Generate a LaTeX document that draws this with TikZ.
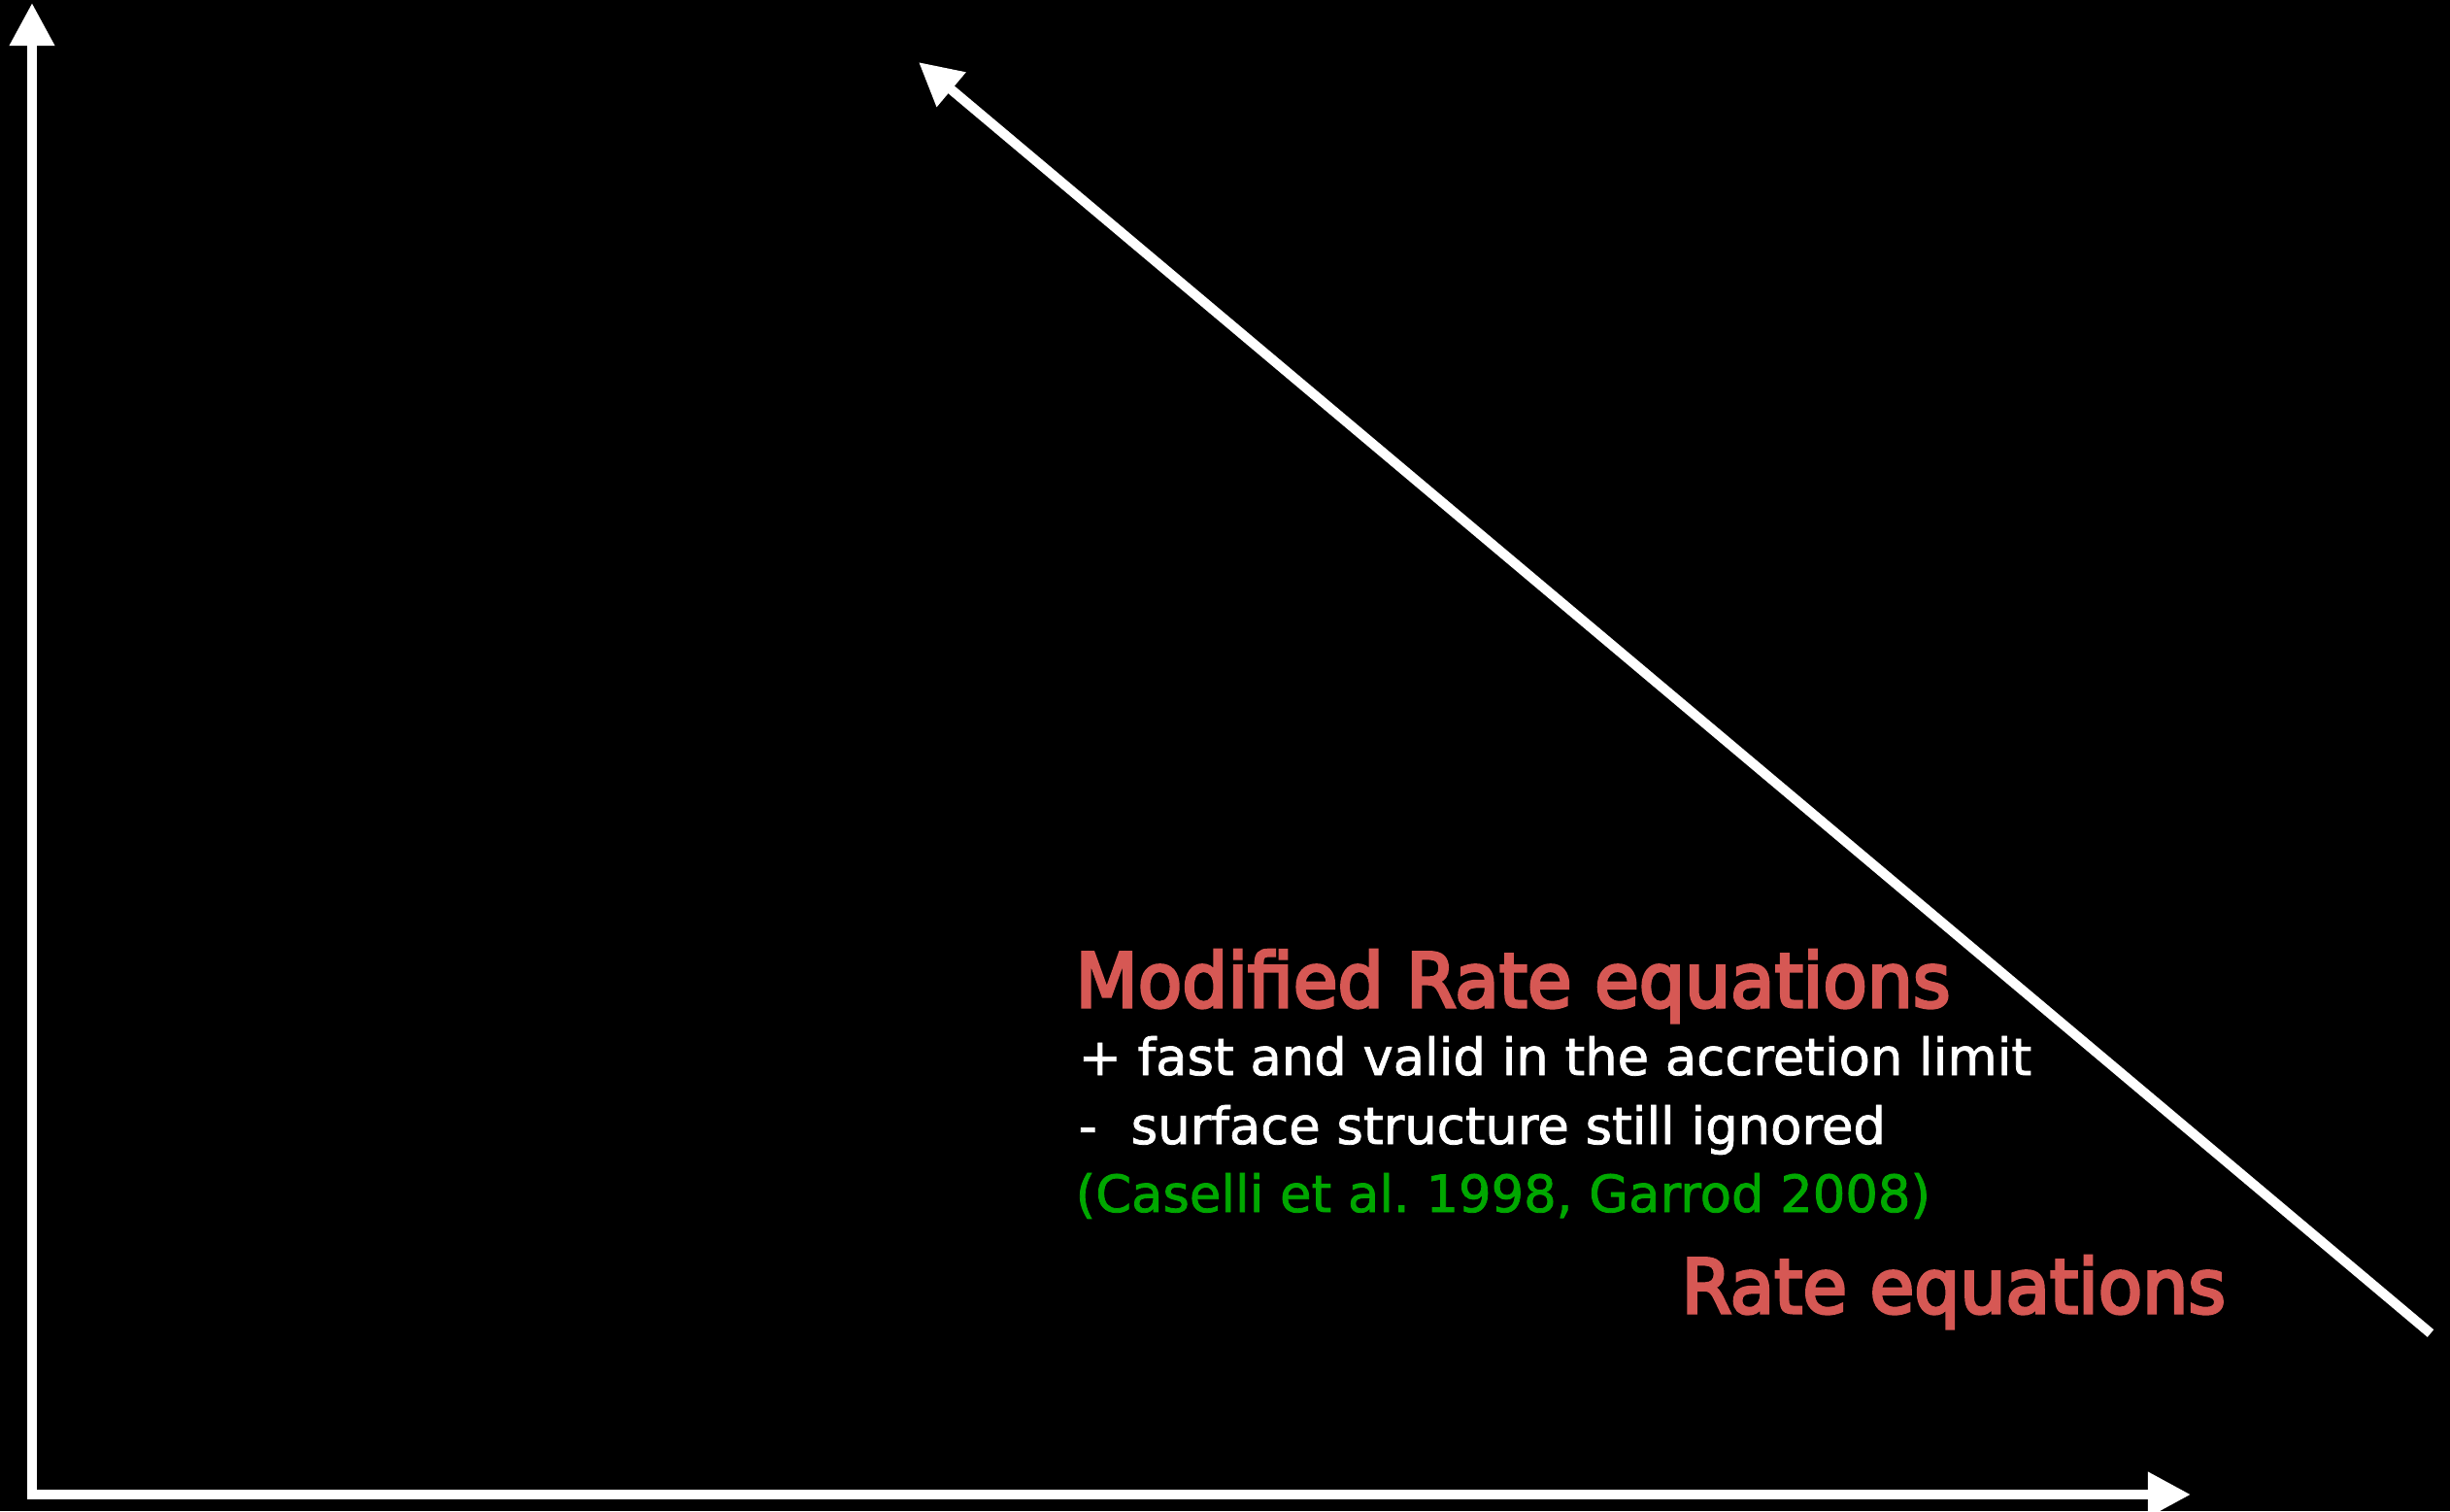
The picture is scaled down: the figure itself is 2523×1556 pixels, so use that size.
\documentclass[tikz,border=0pt]{standalone}
\usepackage{fontspec}
\setmainfont{DejaVu Sans}
\newfontfamily\titlefont{DejaVu Sans}[FakeStretch=0.96, FakeBold=4]
\newfontfamily\bodyfont{DejaVu Sans}[FakeStretch=1.0, FakeBold=1.5]
\usepackage{tikz}
\usetikzlibrary{arrows.meta, positioning}

\definecolor{titlered}{RGB}{214,88,84}
\definecolor{refgreen}{RGB}{0,168,0}

\tikzset{
    axisline/.style={draw=white, line width=1mm, -{Triangle[length=4.4mm, width=4.4mm]}},
    titletext/.style={anchor=base west, inner sep=0pt, text=titlered, font=\titlefont\fontsize{22}{26}\selectfont},
    bodytext/.style={anchor=base west, inner sep=0pt, text=white, font=\bodyfont\fontsize{15}{18}\selectfont},
    reftext/.style={bodytext, text=refgreen}
}

\begin{document}
\begin{tikzpicture}[x=0.01cm, y=-0.01cm]

    % =================================================================
    % 1. CANVAS AND BASIC POINTS (pixel units)
    % =================================================================
    \fill[black] (0,0) rectangle (2523,1556);
    \useasboundingbox (0,0) rectangle (2523,1556);

    \coordinate (origin) at (33,1539);   % corner of the axes
    \coordinate (ytop)   at (33,3);      % tip of the vertical axis
    \coordinate (xend)   at (2256,1539); % tip of the horizontal axis

    \coordinate (difftail) at (2503,1373); % lower end of the diagonal
    \coordinate (diffhead) at (946,64);    % upper end of the diagonal

    % =================================================================
    % 2. AXES AND DIAGONAL ARROW
    % =================================================================
    \draw[axisline, {Triangle[length=4.4mm, width=4.4mm]}-{Triangle[length=4.4mm, width=4.4mm]}]
        (ytop) -- (origin) -- (xend);
    \draw[axisline] (difftail) -- (diffhead);

    % =================================================================
    % 3. TEXTS
    % =================================================================
    \node[titletext] (mre) at (1107,1037) {Modified Rate equations};
    \node[bodytext]  (plus)  at (1110,1107) {+ fast and valid in the accretion limit};
    \node[bodytext]  (minus) at (1110,1178) {-\hspace{0.35cm}surface structure still ignored};
    \node[reftext]   (refs)  at (1107,1248) {(Caselli et al.\ 1998, Garrod 2008)};

    \node[titletext] (re) at (1731,1352) {Rate equations};

\end{tikzpicture}
\end{document}
